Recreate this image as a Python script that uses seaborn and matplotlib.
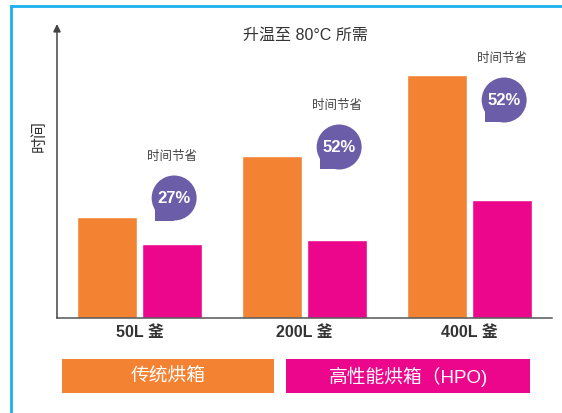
import matplotlib
matplotlib.use("Agg")
import matplotlib.pyplot as plt
import matplotlib.transforms as mtransforms
from matplotlib.patches import Circle, Rectangle
from matplotlib.lines import Line2D
import seaborn as sns
import pandas as pd

# ---- data ----
categories = ["50L 釜", "200L 釜", "400L 釜"]
series_names = ["传统烘箱", "高性能烘箱（HPO)"]
traditional = [10.1, 16.2, 24.3]
hpo = [7.4, 7.8, 11.8]
savings = ["27%", "52%", "52%"]
title = "升温至 80°C 所需"
ylabel = "时间"
callout_label = "时间节省"

# ---- style ----
orange = "#F38233"
magenta = "#EC068C"
purple = "#6C5DA8"
border_blue = "#1BB1EF"
axis_grey = "#555555"
text_dark = "#333333"
palette = {series_names[0]: orange, series_names[1]: magenta}
bubble_y = [12.0, 17.1, 21.8]   # layout: callout vertical positions
bubble_dx = 0.21
latin_cjk = ['Liberation Sans', 'Noto Sans CJK SC', 'DejaVu Sans']

sns.set_theme(style="white")
plt.rcParams['font.family'] = ['Noto Sans CJK SC', 'DejaVu Sans']

df = pd.DataFrame({
    "category": categories * 2,
    "oven": [series_names[0]] * len(categories) + [series_names[1]] * len(categories),
    "time": traditional + hpo,
})

W, H = 562, 414
fig = plt.figure(figsize=(W / 100, H / 100), dpi=100)
ax = fig.add_axes([57 / W, 95 / H, 495 / W, 294 / H])

sns.barplot(data=df, x="category", y="time", hue="oven", palette=palette,
            saturation=1, width=0.794, gap=0.084, legend=False,
            errorbar=None, ax=ax)

ax.set_xlim(-0.5, 2.5)
ax.set_ylim(0, 29.4)
ax.set_xlabel("")
ax.set_ylabel("")
ax.set_yticks([])
for s in ["top", "right", "left"]:
    ax.spines[s].set_visible(False)
ax.spines["bottom"].set_color(axis_grey)
ax.spines["bottom"].set_linewidth(1.1)

ax.set_xticks(range(len(categories)))
ax.set_xticklabels(categories, fontsize=11.5, fontweight="bold", color=text_dark,
                   family=latin_cjk)
ax.tick_params(axis="x", which="major", length=0, pad=4)
ax.set_xticks([0.5, 1.5, 2.5], minor=True)
ax.tick_params(axis="x", which="minor", direction="in", length=4,
               width=1, color=axis_grey)

# y axis arrow
ax.annotate("", xy=(0, 1), xytext=(0, 0), xycoords="axes fraction",
            arrowprops=dict(arrowstyle="-|>", color="#444444", lw=1.1,
                            mutation_scale=11, shrinkA=0, shrinkB=0),
            annotation_clip=False)

# title and y label
fig.text(305 / W, 1 - 35 / H, title, ha="center", va="center",
         fontsize=11.5, color=text_dark, family=latin_cjk)
fig.text(39 / W, 1 - 136 / H, ylabel, ha="center", va="center",
         rotation=90, fontsize=11.5, color=text_dark)

# callout bubbles
r = 0.225
for i, (lab, by) in enumerate(zip(savings, bubble_y)):
    tr = fig.dpi_scale_trans + mtransforms.ScaledTranslation(i + bubble_dx, by, ax.transData)
    circ = Circle((0, 0), r, transform=tr, facecolor=purple, edgecolor="none",
                  clip_on=False)
    tail = Rectangle((-0.19, -r), 0.19, r, transform=tr, facecolor=purple,
                     edgecolor="none", clip_on=False)
    fig.add_artist(tail)
    fig.add_artist(circ)
    fig.text(0, 0.0, lab, transform=tr, ha="center", va="center",
             fontsize=12, fontweight="bold", color="white", family=latin_cjk)
    fig.text(-0.02, 0.42, callout_label, transform=tr, ha="center", va="center",
             fontsize=9, color="#444444")

# legend boxes
boxes = [(62, 274, orange, series_names[0]), (286, 530, magenta, series_names[1])]
for x0, x1, col, name in boxes:
    rect = Rectangle((x0 / W, 1 - 394 / H), (x1 - x0) / W, 34 / H,
                     transform=fig.transFigure, facecolor=col, edgecolor="none")
    fig.add_artist(rect)
    fig.text((x0 + x1) / 2 / W, 1 - 377 / H, name, ha="center", va="center",
             fontsize=13.5, color="white", family=latin_cjk)

# blue frame (top and left)
fig.add_artist(Line2D([11.3 / W, 1], [1 - 6.5 / H, 1 - 6.5 / H],
                      transform=fig.transFigure, color=border_blue, lw=2,
                      solid_capstyle="projecting"))
fig.add_artist(Line2D([11.3 / W, 11.3 / W], [1 - 6.5 / H, 0],
                      transform=fig.transFigure, color=border_blue, lw=2,
                      solid_capstyle="projecting"))

fig.savefig("out.png", dpi=100)
